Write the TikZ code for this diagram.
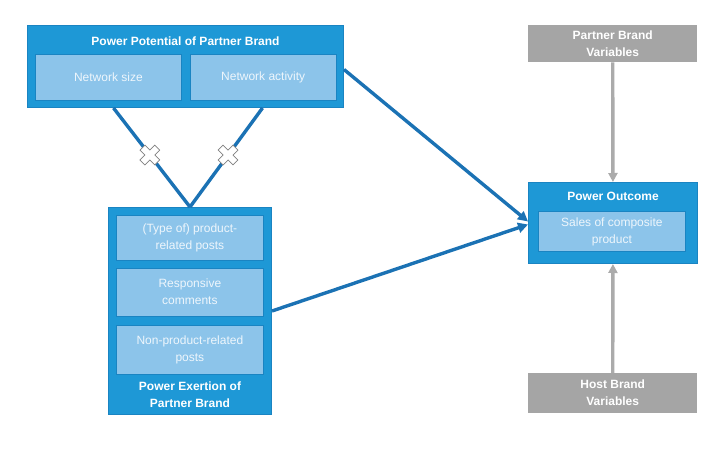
\documentclass[tikz,border=0pt]{standalone}
\usepackage{fontspec}
\setmainfont{Liberation Sans}
\usetikzlibrary{positioning,arrows.meta}

\definecolor{outerblue}{HTML}{1E98D6}
\definecolor{edgeblue}{HTML}{1A84C2}
\definecolor{innerblue}{HTML}{8CC4EA}
\definecolor{linkblue}{HTML}{1B72B4}
\definecolor{boxgrey}{HTML}{A5A5A5}
\definecolor{linkgrey}{HTML}{ABABAB}
\definecolor{softwhite}{HTML}{EEF6FC}

\tikzset{
  outerbox/.style={draw=edgeblue, fill=outerblue, line width=1pt, anchor=north west, inner sep=0pt},
  innerbox/.style={draw=edgeblue, fill=innerblue, line width=0.8pt, anchor=north west, inner sep=0pt,
    align=center, text=softwhite, font=\fontsize{12}{17}\selectfont},
  greybox/.style={fill=boxgrey, anchor=north west, inner sep=0pt, minimum width=169pt,
    align=center, text=white, font=\bfseries\fontsize{12}{17}\selectfont},
  boxtitle/.style={align=center, text=white, inner sep=0pt, font=\bfseries\fontsize{12}{17}\selectfont},
  link/.style={draw=linkblue, line width=3.4pt},
  greylink/.style={draw=linkgrey, line width=3.4pt, -{Triangle[length=9pt,width=9pt]}},
  xmark/.pic={
    \draw[fill=white, draw=gray, line width=0.7pt, rotate=45]
      (-3.5,-10.5) -- (3.5,-10.5) -- (3.5,-3.5) -- (10.5,-3.5) -- (10.5,3.5) -- (3.5,3.5) --
      (3.5,10.5) -- (-3.5,10.5) -- (-3.5,3.5) -- (-10.5,3.5) -- (-10.5,-3.5) -- (-3.5,-3.5) -- cycle;
  }
}

\begin{document}
\begin{tikzpicture}[x=1pt,y=-1pt]
\useasboundingbox (0,0) rectangle (722,462);

% power potential
\node[outerbox, minimum width=316pt, minimum height=82pt] (potential) at (27,25) {};
\node[boxtitle] at ([yshift=-16pt]potential.north) {Power Potential of Partner Brand};
\node[innerbox, minimum width=146pt, minimum height=46pt] (netsize) at (35,54) {Network size};
\node[innerbox, minimum width=146pt, minimum height=46pt, right=8pt of netsize] (netactivity) {Network activity};

% power exertion
\node[outerbox, minimum width=163pt, minimum height=207pt] (exertion) at (108,207) {};
\node[innerbox, minimum width=147pt, minimum height=45pt] (productposts) at (116,215) {(Type of) product-\\related posts};
\node[innerbox, minimum width=147pt, minimum height=48pt, below=7pt of productposts] (comments) {Responsive\\comments};
\node[innerbox, minimum width=147pt, minimum height=49pt, below=8pt of comments] (otherposts) {Non-product-related\\posts};
\node[boxtitle] at ([yshift=20.5pt]exertion.south) {Power Exertion of\\Partner Brand};

% power outcome
\node[outerbox, minimum width=169pt, minimum height=81pt] (outcome) at (528,182) {};
\node[boxtitle] at ([yshift=-14pt]outcome.north) {Power Outcome};
\node[innerbox, minimum width=147pt, minimum height=40pt] (sales) at (538,211) {Sales of composite\\product};

% brand variables
\node[greybox, minimum height=37pt] (partnervars) at (528,25) {Partner Brand\\Variables};
\node[greybox, minimum height=40pt] (hostvars) at (528,373) {Host Brand\\Variables};

% connectors
\draw[link] ([xshift=-72pt]potential.south) -- coordinate[pos=0.475] (crossa) (exertion.north);
\draw[link] ([xshift=77pt]potential.south) -- coordinate[pos=0.475] (crossb) (exertion.north);
\pic at (crossa) {xmark};
\pic at (crossb) {xmark};
\draw[link, -{Triangle[length=10pt,width=10pt]}] ([yshift=-3pt]potential.east) -- ([yshift=1.5pt]outcome.west);
\draw[link, -{Triangle[length=10pt,width=10pt]}] (exertion.east) -- ([yshift=-1.5pt]outcome.west);
\draw[greylink] (partnervars) -- (outcome);
\draw[greylink] (hostvars) -- (outcome);
\end{tikzpicture}
\end{document}
